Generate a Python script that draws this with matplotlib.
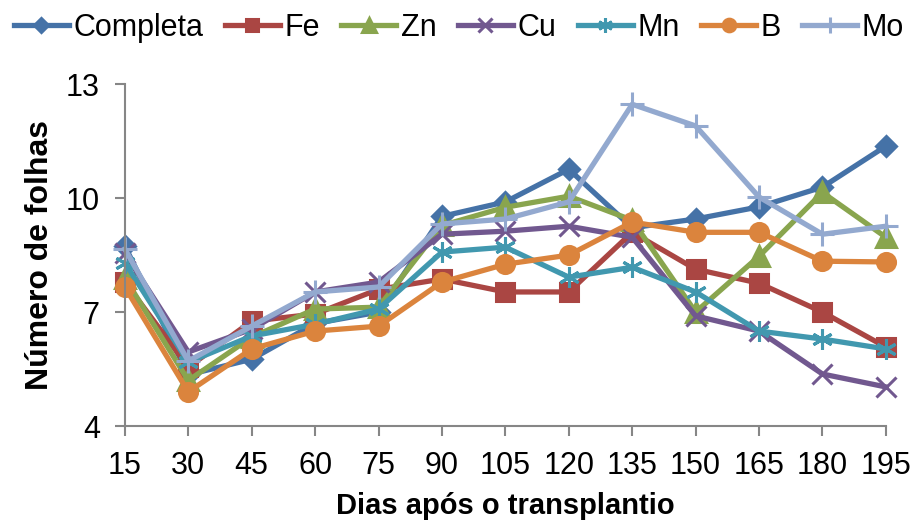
import matplotlib
matplotlib.use("Agg")
import matplotlib.pyplot as plt

plt.rcParams["font.family"] = ["Liberation Sans", "DejaVu Sans"]

dias = [15, 30, 45, 60, 75, 90, 105, 120, 135, 150, 165, 180, 195]

completa = [8.74, 5.35, 5.76, 6.70, 7.00, 9.52, 9.90, 10.76, 9.22, 9.45, 9.77, 10.29, 11.37]
fe = [7.79, 5.55, 6.76, 6.95, 7.60, 7.87, 7.53, 7.53, 9.10, 8.13, 7.76, 7.00, 6.08]
zn = [7.90, 5.20, 6.34, 7.08, 7.13, 9.28, 9.76, 10.05, 9.42, 7.00, 8.47, 10.15, 8.97]
cu = [8.55, 5.95, 6.55, 7.53, 7.79, 9.05, 9.13, 9.26, 8.97, 6.90, 6.50, 5.37, 5.03]
mn = [8.30, 5.68, 6.37, 6.68, 7.08, 8.58, 8.71, 7.92, 8.18, 7.53, 6.50, 6.29, 6.03]
b = [7.66, 4.90, 6.03, 6.50, 6.63, 7.79, 8.26, 8.50, 9.37, 9.10, 9.10, 8.34, 8.32]
mo = [8.66, 5.71, 6.63, 7.53, 7.66, 9.32, 9.45, 9.90, 12.47, 11.90, 10.03, 9.05, 9.26]

series = [
    ("Completa", completa, "#4572A7", "D", 10),
    ("Fe", fe, "#AA4643", "s", 13),
    ("Zn", zn, "#89A54E", "^", 14),
    ("Cu", cu, "#71588F", "x", 14),
    ("Mn", mn, "#4198AF", (6, 2, 0), 15),
    ("B", b, "#DB843D", "o", 13),
    ("Mo", mo, "#93A9CF", "+", 17),
]

fig = plt.figure(figsize=(9.18, 5.26), dpi=100)
ax = fig.add_axes([0.136, 0.19, 0.829, 0.65])

for nome, vals, cor, mk, ms in series:
    ax.plot(dias, vals, color=cor, lw=3.8, marker=mk, ms=ms, mew=2.2,
            mec=cor, mfc=cor, label=nome, clip_on=False,
            solid_joinstyle="round")

ax.set_xlim(15, 195)
ax.set_ylim(4, 13)
ax.set_xticks(dias)
ax.set_yticks([4, 7, 10, 13])
ax.tick_params(axis="both", labelsize=22, color="#868686", width=1.5,
               length=7, direction="out")
ax.tick_params(axis="x", pad=11)
ax.tick_params(axis="y", pad=11)

for s in ["top", "right"]:
    ax.spines[s].set_visible(False)
for s in ["left", "bottom"]:
    ax.spines[s].set_color("#868686")
    ax.spines[s].set_linewidth(1.5)

ax.set_ylabel("Número de folhas", fontsize=23, fontweight="bold", labelpad=8)
ax.set_xlabel("Dias após o transplantio", fontsize=21, fontweight="bold", labelpad=8)

fig.legend(loc="upper center", bbox_to_anchor=(0.5, 1.01), ncol=7,
           frameon=False, fontsize=22, handlelength=1.8, handletextpad=0.15,
           columnspacing=0.7, markerscale=0.7, borderaxespad=0.2)

fig.savefig("out.png", dpi=100)
